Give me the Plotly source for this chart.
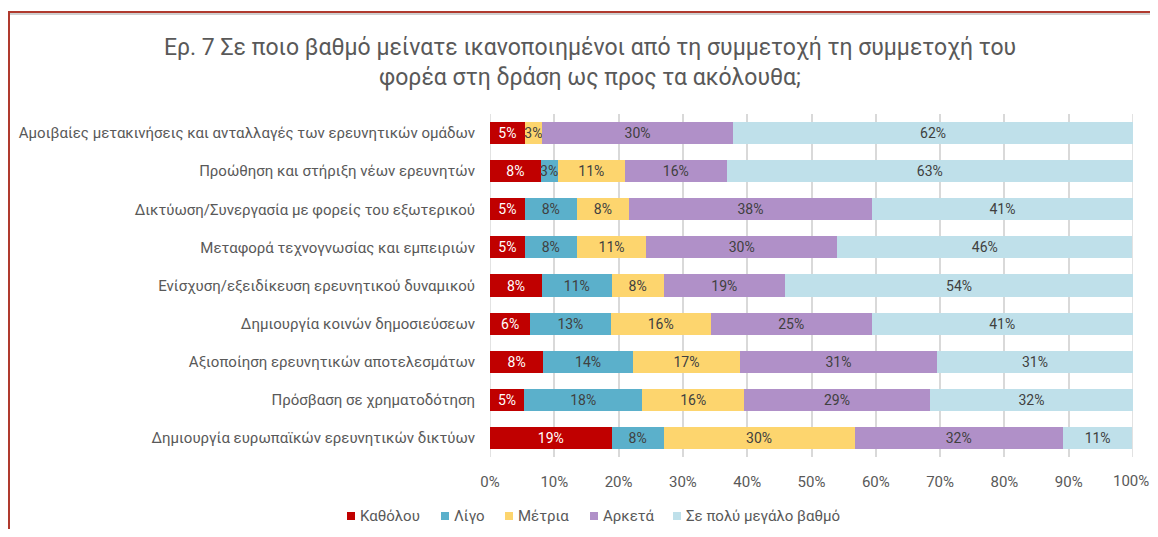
import plotly.graph_objects as go

categories = [
    "Αμοιβαίες μετακινήσεις και ανταλλαγές των ερευνητικών ομάδων",
    "Προώθηση και στήριξη νέων ερευνητών",
    "Δικτύωση/Συνεργασία με φορείς του εξωτερικού",
    "Μεταφορά τεχνογνωσίας και εμπειριών",
    "Ενίσχυση/εξειδίκευση ερευνητικού δυναμικού",
    "Δημιουργία κοινών δημοσιεύσεων",
    "Αξιοποίηση ερευνητικών αποτελεσμάτων",
    "Πρόσβαση σε χρηματοδότηση",
    "Δημιουργία ευρωπαϊκών ερευνητικών δικτύων",
]

katholou = [5.4, 7.9, 5.4, 5.4, 8.1, 6.25, 8.3, 5.3, 18.9]
ligo = [0.0, 2.6, 8.1, 8.1, 10.8, 12.5, 13.9, 18.4, 8.1]
metria = [2.7, 10.5, 8.1, 10.8, 8.1, 15.6, 16.7, 15.8, 29.7]
arketa = [29.7, 15.8, 37.8, 29.7, 18.9, 25.0, 30.6, 28.9, 32.4]
poly = [62.2, 63.2, 40.6, 45.9, 54.1, 40.6, 30.5, 31.6, 10.8]

series_names = ["Καθόλου", "Λίγο", "Μέτρια", "Αρκετά", "Σε πολύ μεγάλο βαθμό"]
series_values = [katholou, ligo, metria, arketa, poly]
colors = ["#C00000", "#5BB0CB", "#FDD56E", "#B090C8", "#BFE0EA"]
text_colors = ["#FFFFFF", "#404040", "#404040", "#404040", "#404040"]

x_ticks = list(range(0, 101, 10))
x_ticklabels = [f"{t}%" for t in x_ticks]

FONT = "Roboto"
GREY = "#595959"
GRID = "#D9D9D9"

fig = go.Figure()
for name, vals, col, tcol in zip(series_names, series_values, colors, text_colors):
    fig.add_trace(go.Bar(
        y=categories, x=vals, name=name, orientation="h",
        marker=dict(color=col, line=dict(width=0)),
        text=[f"{int(v + 0.5)}%" if v > 0 else "" for v in vals],
        textposition="inside", insidetextanchor="middle",
        textangle=0,
        textfont=dict(color=tcol, size=14, family=FONT),
        cliponaxis=False, showlegend=False,
        hoverinfo="skip",
    ))

# The page has an 8px body margin: size the figure so the page is exactly 1158x537
OFF = 8
W, H = 1158 - 2 * OFF, 537 - 2 * OFF
L, R = 490 - OFF, W - (1133 - OFF)
T, B = 114 - OFF, H - (457 - OFF)
pw, ph = W - L - R, H - T - B


def px(x):
    return (x - OFF - L) / pw


def py(y):
    return (H - B - (y - OFF)) / ph


shapes = [
    dict(type="line", xref="paper", yref="paper", x0=px(4), x1=px(1158), y0=py(14), y1=py(14),
         line=dict(color="#D0D0D0", width=2)),
    dict(type="line", xref="paper", yref="paper", x0=px(4), x1=px(1158), y0=py(12), y1=py(12),
         line=dict(color="#B03A2E", width=2)),
    dict(type="line", xref="paper", yref="paper", x0=px(9), x1=px(9), y0=py(11), y1=py(537),
         line=dict(color="#B03A2E", width=2)),
]
# edge gridlines (plotly drops grid lines lying on the plot edges)
for t in (x_ticks[0], x_ticks[-1]):
    shapes.append(dict(type="line", xref="x", yref="paper", x0=t, x1=t, y0=0, y1=1,
                       layer="below", line=dict(color=GRID, width=1.5)))

annotations = []

# the last tick label would be cut by the figure edge, so it is drawn as an annotation
annotations.append(dict(text=x_ticklabels[-1], xref="x", yref="paper", x=x_ticks[-1], y=py(481),
                        xanchor="center", yanchor="middle", xshift=-2, showarrow=False,
                        font=dict(size=15, color=GREY, family=FONT)))
axis_ticktext = x_ticklabels[:-1] + [""]

# legend (Excel style: small squares close to the text)
legend_marker_x = [347, 441, 505, 590, 673]
legend_y = 516
for name, col, mx in zip(series_names, colors, legend_marker_x):
    shapes.append(dict(type="rect", xref="paper", yref="paper",
                       x0=px(mx), x1=px(mx + 8), y0=py(legend_y - 4), y1=py(legend_y + 4),
                       fillcolor=col, line=dict(width=0)))
    annotations.append(dict(text=name, xref="paper", yref="paper", x=px(mx + 11), y=py(legend_y),
                            xanchor="left", yanchor="middle", showarrow=False,
                            font=dict(size=15, color=GREY, family=FONT)))

fig.update_layout(
    width=W, height=H,
    barmode="stack", bargap=0.42,
    margin=dict(l=L, r=R, t=T, b=B, pad=0),
    paper_bgcolor="white", plot_bgcolor="white",
    font=dict(family=FONT, color=GREY, size=15),
    uniformtext=dict(minsize=14, mode="show"),
    showlegend=False,
    title=dict(
        text="Ερ. 7 Σε ποιο βαθμό μείνατε ικανοποιημένοι από τη συμμετοχή τη συμμετοχή του<br>φορέα στη δράση ως προς τα ακόλουθα;",
        x=(590 - OFF) / W, xanchor="center", y=1 - (55 - OFF) / H, yanchor="middle",
        font=dict(size=23, color=GREY, family=FONT),
    ),
    xaxis=dict(
        range=[0, 100.001], tickvals=x_ticks, ticktext=axis_ticktext,
        showgrid=True, gridcolor=GRID, gridwidth=1.5,
        zeroline=False, showline=False, ticks="",
        tickfont=dict(size=15, color=GREY),
        ticklabelstandoff=14, fixedrange=True,
    ),
    yaxis=dict(
        autorange="reversed", showgrid=False, zeroline=False, showline=False,
        ticks="", tickfont=dict(size=15, color=GREY),
        ticklabelstandoff=14,
    ),
    shapes=shapes,
    annotations=annotations,
)

fig.write_html("out.html", config={"displayModeBar": False})
